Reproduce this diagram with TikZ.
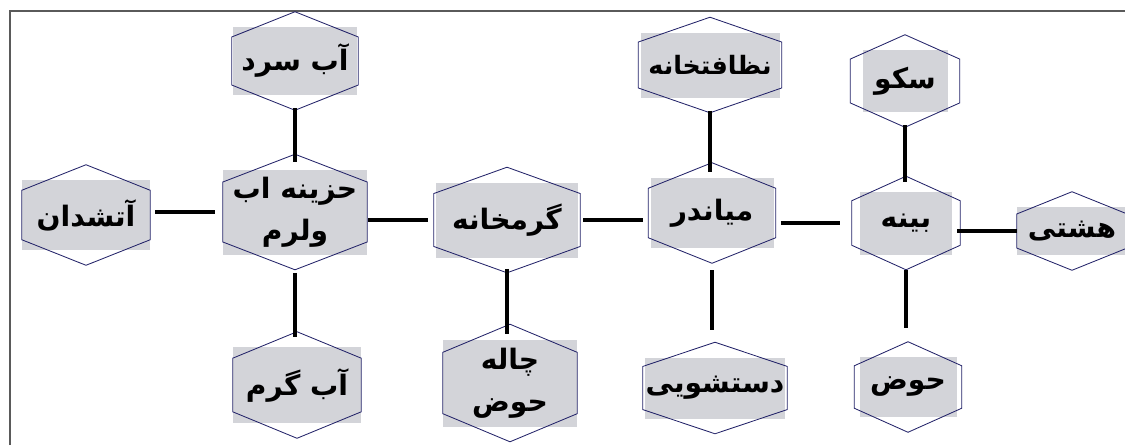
\documentclass[tikz,border=0pt]{standalone}
\usepackage{fontspec}
\newfontfamily\farsi[Script=Arabic]{DejaVu Sans}
\TeXXeTstate=1
\usetikzlibrary{calc}
\definecolor{roomgray}{RGB}{211,212,217}
\definecolor{hexblue}{RGB}{35,35,105}
\definecolor{framegray}{RGB}{90,90,90}

\begin{document}
\begin{tikzpicture}[x=0.25mm, y=-0.25mm,
    room/.style 2 args={fill=roomgray, inner sep=0pt, minimum width=#1*0.25mm, minimum height=#2*0.25mm, align=center, font=\farsi\bfseries\fontsize{20}{30}\selectfont},
    link/.style={line width=1.2mm},
    hexline/.style={draw=hexblue, line width=0.6pt}]
    \useasboundingbox (0,0) rectangle (1125,445);
    % Frame
    \draw[framegray, line width=0.6mm] (10,445) -- (10,11) -- (1125,11);
    % Rooms
    \node[room={124}{68}] (sard) at (295,61) {\beginR آب سرد\endR};
    \node[room={128}{70}] (atashdan) at (86,215) {\beginR آتشدان\endR};
    \node[room={144}{85}] (hazineh) at (295,212) {\beginR حزینه اب\endR\\\beginR ولرم\endR};
    \node[room={128}{76}] (garm) at (297,385) {\beginR آب گرم\endR};
    \node[room={142}{75}] (garmkhaneh) at (507,220) {\beginR گرمخانه\endR};
    \node[room={134}{87}] (chaleh) at (510,383) {\beginR چاله\endR\\\beginR حوض\endR};
    \node[room={123}{70}] (miandar) at (712,213) {\beginR میاندر\endR};
    \node[room={139}{65}, font=\farsi\bfseries\fontsize{18}{30}\selectfont] (nezafat) at (710,65) {\beginR نظافتخانه\endR};
    \node[room={140}{61}] (dastshui) at (715,388) {\beginR دستشویی\endR};
    \node[room={85}{62}] (sakoo) at (905,81) {\beginR سکو\endR};
    \node[room={92}{63}] (bineh) at (906,223) {\beginR بینه\endR};
    \node[room={110}{48}] (hashti) at (1072,231) {\beginR هشتی\endR};
    \node[room={97}{60}] (hoz) at (908,387) {\beginR حوض\endR};
    % Hexagons round the rooms
    \foreach \n/\d in {sard/1, atashdan/0, hazineh/0, garm/0, garmkhaneh/2, chaleh/0, miandar/2, nezafat/2, dastshui/2, sakoo/12, bineh/8, hashti/0, hoz/5}
    {
        \draw[hexline] ($(\n.north west)!0.15!(\n.south west)+(-\d,0)$) -- ($(\n.north)+(0,-15)$)
            -- ($(\n.north east)!0.15!(\n.south east)+(\d,0)$) -- ($(\n.south east)!0.15!(\n.north east)+(\d,0)$)
            -- ($(\n.south)+(0,15)$) -- ($(\n.south west)!0.15!(\n.north west)+(-\d,0)$) -- cycle;
    }
    % Horizontal links
    \draw[link, shorten <=1.25mm, shorten >=2mm] (hazineh.west -| atashdan.east) -- (hazineh.west);
    \draw[link, shorten <=0.25mm, shorten >=2mm] (garmkhaneh.west -| hazineh.east) -- (garmkhaneh.west);
    \draw[link, shorten <=1.25mm, shorten >=1.75mm] (garmkhaneh.east) -- (garmkhaneh.east -| miandar.west);
    \draw[link, shorten <=1.75mm, shorten >=5mm] (bineh.west -| miandar.east) -- (bineh.west);
    \draw[link, shorten <=1.25mm] (hashti.west -| bineh.east) -- (hashti.west);
    % Vertical links
    \draw[link, shorten <=3.25mm, shorten >=1.75mm] (sard.south) -- (sard.south |- hazineh.north);
    \draw[link, shorten <=4.5mm, shorten >=2.5mm] (hazineh.south) -- (hazineh.south |- garm.north);
    \draw[link, shorten <=2.75mm, shorten >=1.25mm] (garmkhaneh.south) -- (garmkhaneh.south |- chaleh.north);
    \draw[link, shorten <=3.25mm, shorten >=1.5mm] (nezafat.south) -- (nezafat.south |- miandar.north);
    \draw[link, shorten <=5.5mm, shorten >=6.75mm] (miandar.south) -- (miandar.south |- dastshui.north);
    \draw[link, shorten <=3.25mm, shorten >=2.25mm] (sakoo.south) -- (sakoo.south |- bineh.north);
    \draw[link, shorten <=3.75mm, shorten >=7.25mm] (bineh.south) -- (bineh.south |- hoz.north);
\end{tikzpicture}
\end{document}
